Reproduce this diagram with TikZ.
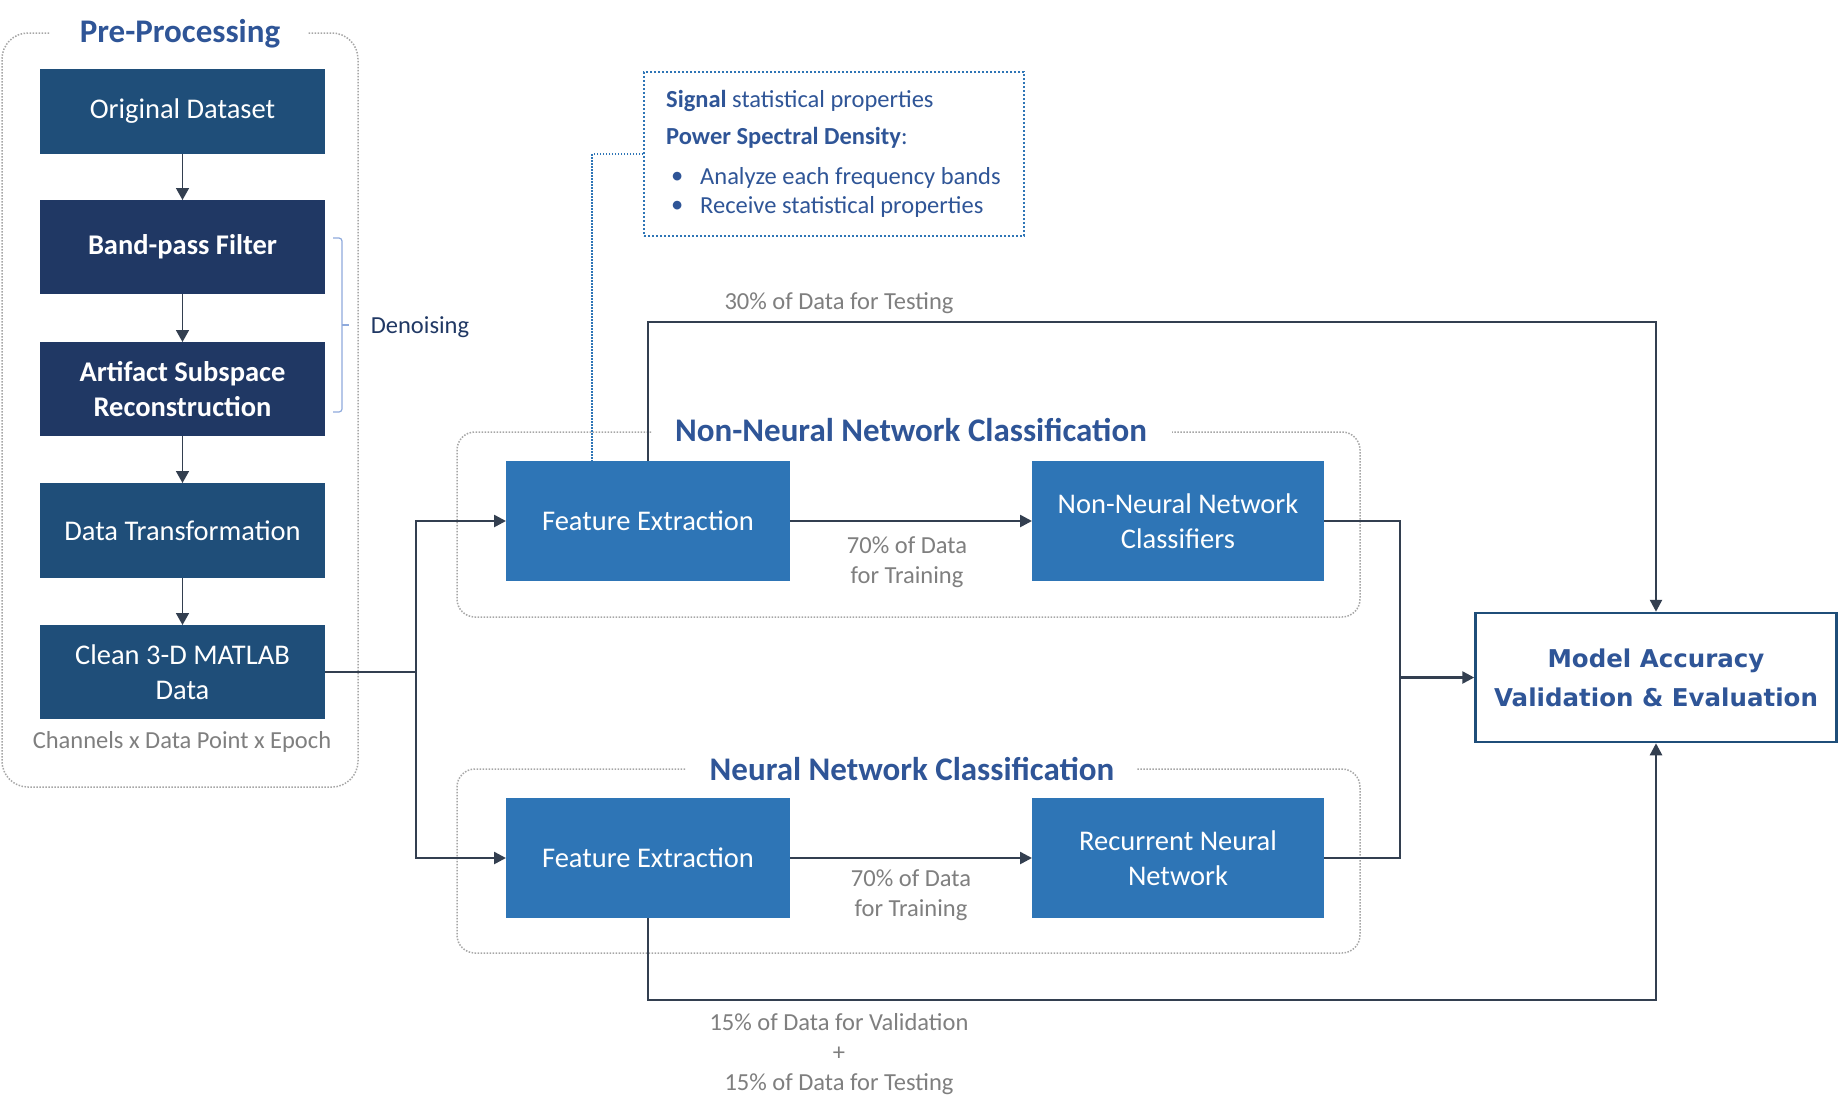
\documentclass[tikz,border=0pt]{standalone}
\usepackage{fontspec}
\setmainfont{Carlito}
\newfontfamily\djv{DejaVu Sans}
\usetikzlibrary{arrows.meta}
\definecolor{boxA}{HTML}{1F4E79}
\definecolor{boxB}{HTML}{203864}
\definecolor{boxC}{HTML}{2E75B6}
\definecolor{ttl}{HTML}{2F5597}
\definecolor{gtxt}{HTML}{7F7F7F}
\definecolor{conn}{HTML}{333F50}
\definecolor{grpline}{HTML}{A6A6A6}
\definecolor{brk}{HTML}{8FAADC}
\begin{document}
\begin{tikzpicture}[x=1pt,y=-1pt,
  box/.style={minimum width=285pt,minimum height=94pt,inner sep=0pt,outer sep=0pt,text=white,align=center,font=\fontsize{28.5}{35}\selectfont},
  prebox/.style={box,fill=boxA},
  denbox/.style={box,fill=boxB,font=\fontsize{28.5}{35}\selectfont\bfseries},
  clsbox/.style={box,fill=boxC,minimum height=120pt},
  grp/.style={draw=grpline,line width=1.5pt,dash pattern=on 1.5pt off 1.5pt,rounded corners=26pt},
  grptitle/.style={text=ttl,font=\fontsize{33}{40}\selectfont\bfseries,inner sep=0pt},
  graytxt/.style={text=gtxt,font=\fontsize{24.5}{30}\selectfont,align=center,inner sep=0pt},
  bluetxt/.style={text=ttl,font=\fontsize{24.5}{30}\selectfont,inner sep=0pt,anchor=west},
  thinconn/.style={draw=conn,line width=1.5pt,-{Triangle[length=12pt,width=13pt]}},
  conn/.style={draw=conn,line width=2.5pt},
  connarr/.style={conn,-{Triangle[length=12pt,width=12pt]}},
  leader/.style={draw=boxC,line width=1.5pt,dash pattern=on 1.5pt off 1.5pt}
]
\useasboundingbox (0,0) rectangle (1839,1112);
\fill[white] (0,0) rectangle (1839,1112);

% Pre-processing group
\draw[grp] (49,33) -- (2,33) -- (2,787) -- (358,787) -- (358,33) -- (308,33);
\node[grptitle] (pptitle) at (180,34) {Pre-Processing};

\node[prebox,minimum height=85pt] (orig) at (182.5,111.5) {Original Dataset};
\node[denbox] (bpf) at (182.5,247) {Band-pass Filter};
\node[denbox] (asr) at (182.5,389) {Artifact Subspace\\Reconstruction};
\node[prebox,minimum height=95pt] (dt) at (182.5,530.5) {Data Transformation};
\node[prebox] (clean) at (182.5,672) {Clean 3-D MATLAB\\Data};
\node[graytxt] (chan) at (182,742) {Channels x Data Point x Epoch};

\draw[thinconn] (orig) -- (bpf);
\draw[thinconn] (bpf) -- (asr);
\draw[thinconn] (asr) -- (dt);
\draw[thinconn] (dt) -- (clean);

% Denoising bracket
\draw[brk,line width=1.2pt,rounded corners=3pt] (333,238) -- (342,238) -- (342,412) -- (333,412);
\draw[brk,line width=1.2pt] (342,325) -- (349,325);
\node[text=boxB,font=\fontsize{24.5}{30}\selectfont,inner sep=0pt] (den) at (420,327) {Denoising};

% Info box
\node[draw=boxC,line width=2pt,dash pattern=on 2pt off 2pt,minimum width=380pt,minimum height=164pt,inner sep=0pt] (info) at (834,154) {};
\node[bluetxt] (l1) at (666,101) {\textbf{Signal} statistical properties};
\node[bluetxt] (l2) at (666,138) {\textbf{Power Spectral Density}:};
\node[bluetxt] (b1) at (671,178) {•};
\node[bluetxt] (b2) at (671,207) {•};
\node[bluetxt] (l3) at (700,178) {Analyze each frequency bands};
\node[bluetxt] (l4) at (700,207) {Receive statistical properties};

% Classification groups
\draw[grp,rounded corners=18pt] (651,432) -- (457,432) -- (457,617) -- (1360,617) -- (1360,432) -- (1172,432);
\node[grptitle] (nnctitle) at (911,430) {Non-Neural Network Classification};
\draw[grp,rounded corners=18pt] (685,769) -- (457,769) -- (457,953) -- (1360,953) -- (1360,769) -- (1136,769);
\node[grptitle] (nntitle) at (912,769) {Neural Network Classification};

\node[clsbox,minimum width=284pt] (fe1) at (648,521) {Feature Extraction};
\node[clsbox,minimum width=292pt] (nnc) at (1178,521) {Non-Neural Network\\Classifiers};
\node[clsbox,minimum width=284pt] (fe2) at (648,858) {Feature Extraction};
\node[clsbox,minimum width=292pt] (rnn) at (1178,858) {Recurrent Neural\\Network};

\node[draw=boxA,line width=2.5pt,fill=white,minimum width=361pt,minimum height=129pt,inner sep=0pt,align=center,text=ttl,font=\djv\fontsize{24.5}{39}\selectfont\bfseries] (model) at (1656,677.5) {Model Accuracy\\Validation \& Evaluation};

% leader
\coordinate (ldtop) at (592,154);
\coordinate (ldbot) at (592,461);
\draw[leader] (info.west) -- (ldtop) -- (ldbot);

% connectors
\coordinate (sp) at (416,672);
\draw[conn] (clean.east) -- (sp);
\draw[connarr] (sp) |- (fe1.west);
\draw[connarr] (sp) |- (fe2.west);
\draw[connarr] (fe1) -- (nnc);
\draw[connarr] (fe2) -- (rnn);
\coordinate (mg) at (1400,677.5);
\draw[conn] (nnc.east) -| (mg);
\draw[conn] (rnn.east) -| (mg);
\draw[connarr] (mg) -- (model.west);
\coordinate (tr) at (1656,322);
\draw[connarr] (fe1.north) |- (tr) -- (model.north);
\coordinate (brc) at (1656,1000);
\draw[connarr] (fe2.south) |- (brc) -- (model.south);

% labels
\node[graytxt] (t30) at (839,303) {30\% of Data for Testing};
\node[graytxt] (t70a) at (907,562) {70\% of Data\\for Training};
\node[graytxt] (t70b) at (911,895) {70\% of Data\\for Training};
\node[graytxt] (t15) at (839,1054) {15\% of Data for Validation\\+\\15\% of Data for Testing};
\end{tikzpicture}
\end{document}
